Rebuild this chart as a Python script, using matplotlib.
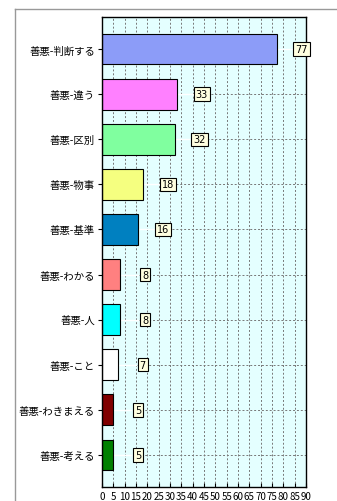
import matplotlib
matplotlib.use("Agg")
import matplotlib.pyplot as plt
from matplotlib.lines import Line2D

plt.rcParams["font.family"] = ["Noto Sans CJK JP", "DejaVu Sans"]

labels = ["善悪-判断する", "善悪-違う", "善悪-区別", "善悪-物事", "善悪-基準",
          "善悪-わかる", "善悪-人", "善悪-こと", "善悪-わきまえる", "善悪-考える"]
values = [77, 33, 32, 18, 16, 8, 8, 7, 5, 5]
colors = ["#8c9cf8", "#ff80ff", "#80ff9f", "#f5ff80", "#0080c0",
          "#ff8080", "#00ffff", "#ffffff", "#800000", "#008000"]

W, H = 337, 502
fig = plt.figure(figsize=(W / 100, H / 100), dpi=100)
ax = fig.add_axes([102 / W, 1 - 488 / H, (306 - 102) / W, (488 - 18) / H])
ax.set_facecolor("#e4ffff")

ypos = list(range(len(labels)))
ax.set_xlim(0, 90)
ax.set_ylim(len(labels) - 0.28, -0.72)

ax.set_xticks(range(0, 91, 5))
ax.grid(axis="x", color="#777777", linestyle=(0, (2, 2)), linewidth=0.7)
ax.set_axisbelow(True)
for y in ypos:
    ax.axhline(y, color="#777777", linestyle=(0, (2, 2)), linewidth=0.7, zorder=0.5)

ax.barh(ypos, values, height=0.67, color=colors, edgecolor="black", linewidth=0.8, zorder=2)

for y, v in zip(ypos, values):
    ax.plot([v, v + 8], [y, y], color="white", linewidth=1.0, zorder=1.5)
    ax.text(v + 11, y, str(v), ha="center", va="center", fontsize=7, zorder=3,
            family=["DejaVu Sans"],
            bbox=dict(boxstyle="square,pad=0.2", facecolor="#ffffe0", edgecolor="black", linewidth=0.8))

ax.set_yticks(ypos)
ax.set_yticklabels(labels, fontsize=7.5)
ax.tick_params(axis="y", length=3, pad=2)
ax.tick_params(axis="x", length=3, direction="in", labelsize=7, pad=3)
for s in ax.spines.values():
    s.set_linewidth(1.0)

# outer frame
fig.add_artist(Line2D([15 / W, 1], [1 - 10 / H, 1 - 10 / H], color="#999999", linewidth=1, transform=fig.transFigure))
fig.add_artist(Line2D([15 / W, 15 / W], [0, 1 - 10 / H], color="#999999", linewidth=1, transform=fig.transFigure))

fig.savefig("out.png", dpi=100)
